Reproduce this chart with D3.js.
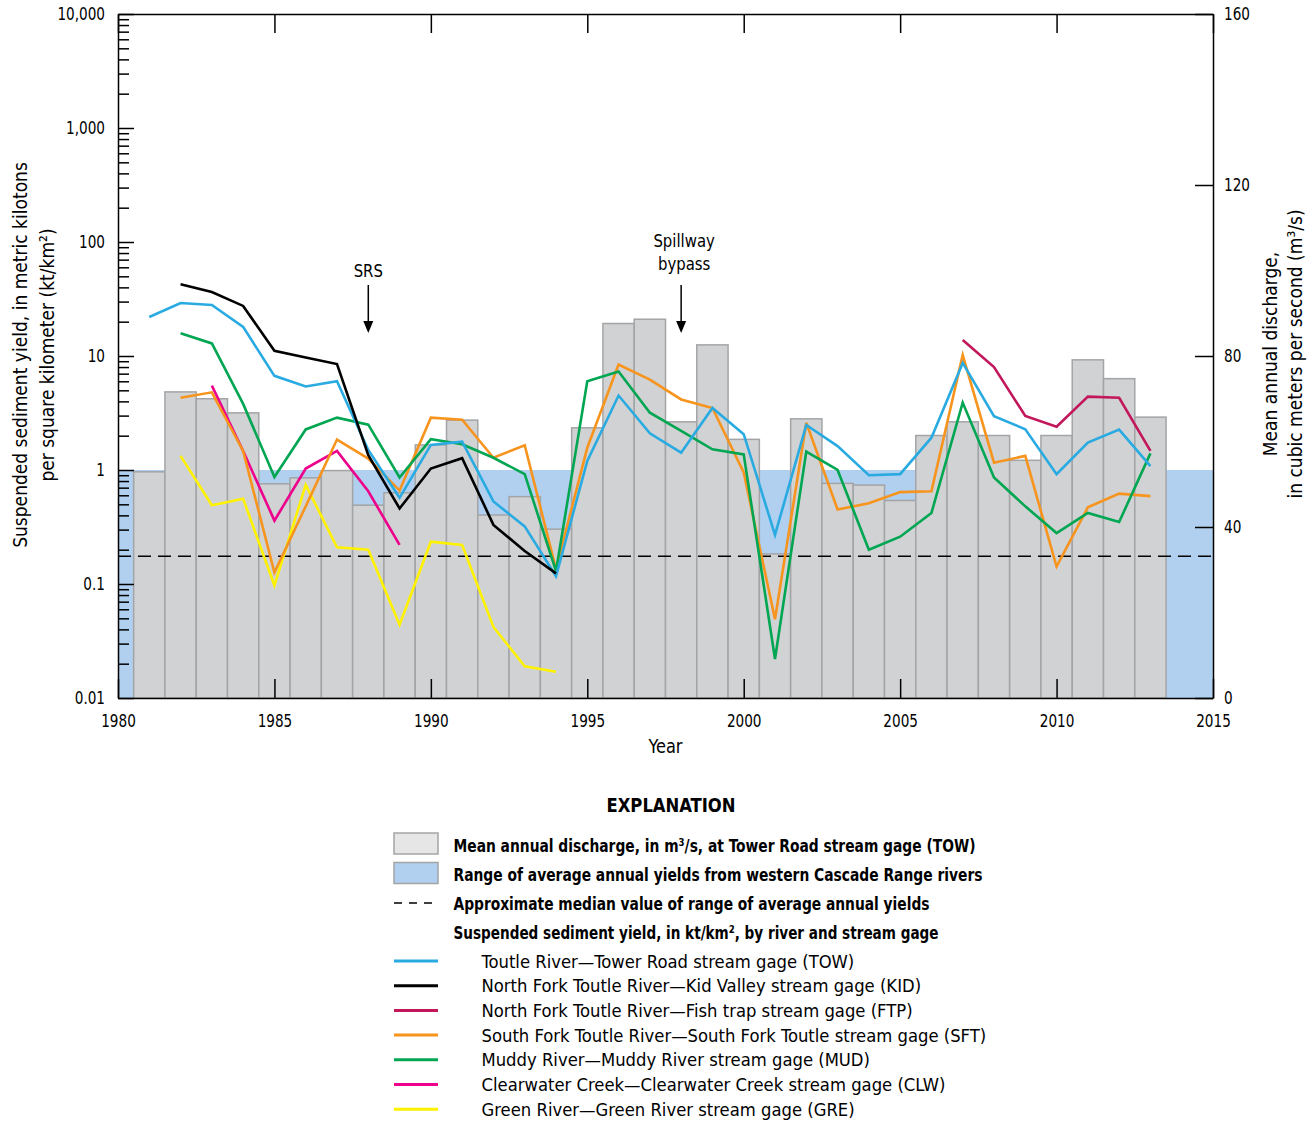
<!DOCTYPE html>
<html>
<head>
<meta charset="utf-8">
<script src="https://cdn.jsdelivr.net/npm/d3@7"></script>
<style>
  body { margin: 0; background: #fff; }
  svg { display: block; font-family: "Liberation Sans Narrow", "DejaVu Sans Condensed", "Arial Narrow", sans-serif; }
</style>
</head>
<body>
<div class="chart"></div>
<script>
// ---- data ----
const barYears = [1981,1982,1983,1984,1985,1986,1987,1988,1989,1990,1991,1992,1993,1994,1995,1996,1997,
                  1998,1999,2000,2001,2002,2003,2004,2005,2006,2007,2008,2009,2010,2011,2012,2013]
// mean annual discharge at TOW, m3/s
const towDischarge = [52.9,71.6,70.0,66.7,50.1,51.5,53.2,45.1,48.0,59.2,65.0,42.8,47.1,39.5,63.2,87.6,88.6,
                      64.6,82.6,60.5,33.7,65.3,50.2,49.8,46.2,61.4,64.6,61.4,55.6,61.4,79.1,74.7,65.7]

// suspended sediment yield, kt/km2
const towYears = barYears
const towYield = [22,29.2,28,18,6.7,5.4,6.0,1.5,0.57,1.66,1.77,0.53,0.32,0.117,1.2,4.5,2.1,
                  1.42,3.5,2.06,0.27,2.48,1.62,0.9,0.92,1.92,8.7,2.96,2.28,0.92,1.74,2.26,1.08]
const kidYears = [1982,1983,1984,1985,1986,1987,1988,1989,1990,1991,1992,1993,1994]
const kidYield = [42.6,36.4,27.5,11.1,9.7,8.5,1.35,0.46,1.03,1.27,0.33,0.195,0.124]
const ftpYears = [2007,2008,2009,2010,2011,2012,2013]
const ftpYield = [13.8,8.0,2.98,2.4,4.4,4.3,1.47]
const sftYears = barYears.slice(1)
const sftYield = [4.3,4.8,1.47,0.126,0.48,1.85,1.26,0.66,2.88,2.76,1.28,1.65,0.135,1.57,8.4,6.2,
                  4.16,3.5,0.95,0.049,2.6,0.45,0.51,0.64,0.65,10.2,1.16,1.33,0.142,0.47,0.62,0.59]
const mudYears = barYears.slice(1)
const mudYield = [15.8,12.9,3.8,0.87,2.27,2.88,2.5,0.86,1.86,1.68,1.28,0.92,0.13,6.0,7.3,3.18,
                  2.2,1.52,1.37,0.022,1.45,1.0,0.2,0.26,0.42,3.9,0.86,0.48,0.28,0.42,0.35,1.4]
const clwYears = [1983,1984,1985,1986,1987,1988,1989]
const clwYield = [5.5,1.47,0.36,1.03,1.47,0.65,0.22]
const greYears = [1982,1983,1984,1985,1986,1987,1988,1989,1990,1991,1992,1993,1994]
const greYield = [1.33,0.49,0.56,0.097,0.74,0.21,0.2,0.044,0.235,0.22,0.042,0.019,0.017]

const bandRange = [0.01, 1]      // western Cascade Range yields
const medianYield = 0.175

const xTicks = [1980,1985,1990,1995,2000,2005,2010,2015]
const yTicks = [0.01,0.1,1,10,100,1000,10000]
const yTickLabels = ['0.01','0.1','1','10','100','1,000','10,000']
const qTicks = [0,40,80,120,160]

const notes = [
  {year: 1988, lines: ['SRS']},
  {year: 1998, lines: ['Spillway', 'bypass']}
]

const series = [
  {years: towYears, values: towYield, color: '#29abe2', label: 'Toutle River\u2014Tower Road stream gage (TOW)'},
  {years: kidYears, values: kidYield, color: '#000000', label: 'North Fork Toutle River\u2014Kid Valley stream gage (KID)'},
  {years: ftpYears, values: ftpYield, color: '#c2185b', label: 'North Fork Toutle River\u2014Fish trap stream gage (FTP)'},
  {years: sftYears, values: sftYield, color: '#f7941d', label: 'South Fork Toutle River\u2014South Fork Toutle stream gage (SFT)'},
  {years: mudYears, values: mudYield, color: '#00a651', label: 'Muddy River\u2014Muddy River stream gage (MUD)'},
  {years: clwYears, values: clwYield, color: '#ec008c', label: 'Clearwater Creek\u2014Clearwater Creek stream gage (CLW)'},
  {years: greYears, values: greYield, color: '#fff200', label: 'Green River\u2014Green River stream gage (GRE)'}
]
// draw order in the plot (black on top like the figure)
const drawOrder = [6, 5, 3, 4, 0, 2, 1]

// ---- layout ----
const margin = {top: 14, right: 102, bottom: 424, left: 118}
const W = 1315, H = 1122
const width = W - margin.left - margin.right
const height = H - margin.top - margin.bottom

const svg = d3.select('.chart').append('svg')
    .attr('width', W)
    .attr('height', H)

const g = svg.append('g')
    .attr('transform', `translate(${margin.left},${margin.top})`)

const xScale = d3.scaleLinear().domain([1980, 2015]).range([0, width])
const yScale = d3.scaleLog().domain([0.01, 10000]).range([height, 0])
const qScale = d3.scaleLinear().domain([0, 160]).range([height, 0])

// narrow the text a bit, the figure uses a condensed face
function squeeze(sel, k) {
  sel.each(function() {
    const w = this.getComputedTextLength()
    if (w > 0) d3.select(this).attr('textLength', w * k).attr('lengthAdjust', 'spacingAndGlyphs')
  })
}
function fitTo(sel, w) {
  sel.attr('textLength', w).attr('lengthAdjust', 'spacingAndGlyphs')
}

// blue range band
g.append('rect')
    .attr('x', 0)
    .attr('width', width)
    .attr('y', yScale(bandRange[1]))
    .attr('height', yScale(bandRange[0]) - yScale(bandRange[1]))
    .style('fill', '#b1cfee')

// discharge bars
g.selectAll('.bar')
    .data(barYears)
    .enter()
    .append('rect')
    .attr('class', 'bar')
    .attr('x', d => xScale(d - 0.5))
    .attr('width', d => xScale(d + 0.5) - xScale(d - 0.5))
    .attr('y', (d, i) => qScale(towDischarge[i]))
    .attr('height', (d, i) => height - qScale(towDischarge[i]))
    .style('fill', '#d1d2d4')
    .style('stroke', '#a3a4a6')
    .style('stroke-width', 1.5)

// median dashed line
g.append('line')
    .attr('x1', 0).attr('x2', width)
    .attr('y1', yScale(medianYield)).attr('y2', yScale(medianYield))
    .style('stroke', '#000')
    .style('stroke-width', 1.6)
    .style('stroke-dasharray', '13,7')

// yield lines
const line = d3.line()
    .x(d => xScale(d[0]))
    .y(d => yScale(d[1]))

drawOrder.forEach(k => {
  const s = series[k]
  g.append('path')
      .datum(s.years.map((y, i) => [y, s.values[i]]))
      .attr('d', line)
      .style('fill', 'none')
      .style('stroke', s.color)
      .style('stroke-width', 2.6)
})

// axes
const minorTicks = yScale.ticks().filter(v => Math.abs(Math.log10(v) - Math.round(Math.log10(v))) > 1e-6)

function styleAxis(sel) {
  sel.attr('font-family', null).attr('font-size', null)
  sel.selectAll('path').style('stroke', '#000').style('stroke-width', 1.5)
  sel.selectAll('line').style('stroke', '#000').style('stroke-width', 1.5)
  sel.selectAll('text')
      .style('font-size', '18px')
      .style('fill', '#000')
      .call(squeeze, 0.84)
}

g.append('g')
    .call(d3.axisLeft(yScale).tickValues(minorTicks).tickFormat('').tickSize(-11).tickSizeOuter(0))
    .call(styleAxis)
    .select('.domain').remove()

g.append('g')
    .call(d3.axisLeft(yScale).tickValues(yTicks).tickFormat((d, i) => yTickLabels[i])
        .tickSize(-16).tickSizeOuter(0).tickPadding(13))
    .call(styleAxis)

g.append('g')
    .attr('transform', `translate(0,${height})`)
    .call(d3.axisBottom(xScale).tickValues(xTicks).tickFormat(d3.format('d'))
        .tickSize(-19).tickSizeOuter(0).tickPadding(16))
    .call(styleAxis)

g.append('g')
    .call(d3.axisTop(xScale).tickValues(xTicks).tickFormat('').tickSize(-19).tickSizeOuter(0))
    .call(styleAxis)

g.append('g')
    .attr('transform', `translate(${width},0)`)
    .call(d3.axisRight(qScale).tickValues(qTicks).tickSize(-18).tickSizeOuter(0).tickPadding(11))
    .call(styleAxis)

// axis titles
g.append('text')
    .attr('x', width / 2)
    .attr('y', height + 55)
    .attr('text-anchor', 'middle')
    .style('font-size', '20px')
    .text('Year')
    .call(squeeze, 0.9)

const leftTitle = ['Suspended sediment yield, in metric kilotons', 'per square kilometer (kt/km\u00b2)']
leftTitle.forEach((t, i) => {
  svg.append('text')
      .attr('transform', `translate(${27 + i * 27},355) rotate(-90)`)
      .attr('text-anchor', 'middle')
      .style('font-size', '20px')
      .text(t)
      .call(squeeze, 0.95)
})
const rightTitle = ['Mean annual discharge,', 'in cubic meters per second (m\u00b3/s)']
rightTitle.forEach((t, i) => {
  svg.append('text')
      .attr('transform', `translate(${1277 + i * 25},354) rotate(-90)`)
      .attr('text-anchor', 'middle')
      .style('font-size', '20px')
      .text(t)
      .call(squeeze, 0.95)
})

// annotations
notes.forEach(n => {
  const cx = xScale(n.year)
  const multi = n.lines.length > 1
  const last = multi ? 256 : 263
  n.lines.forEach((t, i) => {
    g.append('text')
        .attr('x', cx + (multi ? 3 : 0))
        .attr('y', last - (n.lines.length - 1 - i) * 23)
        .attr('text-anchor', 'middle')
        .style('font-size', '18px')
        .text(t)
        .call(squeeze, 0.92)
  })
  g.append('line')
      .attr('x1', cx).attr('x2', cx)
      .attr('y1', 271).attr('y2', 310)
      .style('stroke', '#000').style('stroke-width', 1.5)
  g.append('path')
      .attr('d', `M${cx - 5},${307}L${cx + 5},${307}L${cx},${319}Z`)
      .style('fill', '#000')
})

// ---- explanation ----
const leg = svg.append('g')
leg.append('text')
    .attr('x', 671).attr('y', 812)
    .attr('text-anchor', 'middle')
    .style('font-size', '20px').style('font-weight', 'bold')
    .text('EXPLANATION')
    .call(fitTo, 129)

const sx = 394, sw = 44, tx = 453.5, ix = 481.5
leg.append('rect').attr('x', sx).attr('y', 833).attr('width', sw).attr('height', 21)
    .style('fill', '#e6e6e6').style('stroke', '#a3a4a6').style('stroke-width', 1.5)
leg.append('rect').attr('x', sx).attr('y', 862.5).attr('width', sw).attr('height', 21)
    .style('fill', '#b1cfee').style('stroke', '#a3a4a6').style('stroke-width', 1.5)
leg.append('line').attr('x1', sx).attr('x2', sx + sw).attr('y1', 903).attr('y2', 903)
    .style('stroke', '#000').style('stroke-width', 1.6).style('stroke-dasharray', '8,7')

const boldItems = [
  {y: 851.5, w: 522, text: 'Mean annual discharge, in m\u00b3/s, at Tower Road stream gage (TOW)'},
  {y: 881, w: 529, text: 'Range of average annual yields from western Cascade Range rivers'},
  {y: 910, w: 476, text: 'Approximate median value of range of average annual yields'},
  {y: 939, w: 485, text: 'Suspended sediment yield, in kt/km\u00b2, by river and stream gage'}
]
boldItems.forEach(b => {
  leg.append('text').attr('x', tx).attr('y', b.y)
      .style('font-size', '18px').style('font-weight', 'bold')
      .text(b.text)
      .call(fitTo, b.w)
})

series.forEach((s, i) => {
  const ly = 961 + i * 24.7
  leg.append('line').attr('x1', sx).attr('x2', sx + sw).attr('y1', ly).attr('y2', ly)
      .style('stroke', s.color).style('stroke-width', 3)
  leg.append('text').attr('x', ix).attr('y', ly + 6.5)
      .style('font-size', '18px')
      .text(s.label)
      .call(squeeze, 1.015)
})
</script>
</body>
</html>
